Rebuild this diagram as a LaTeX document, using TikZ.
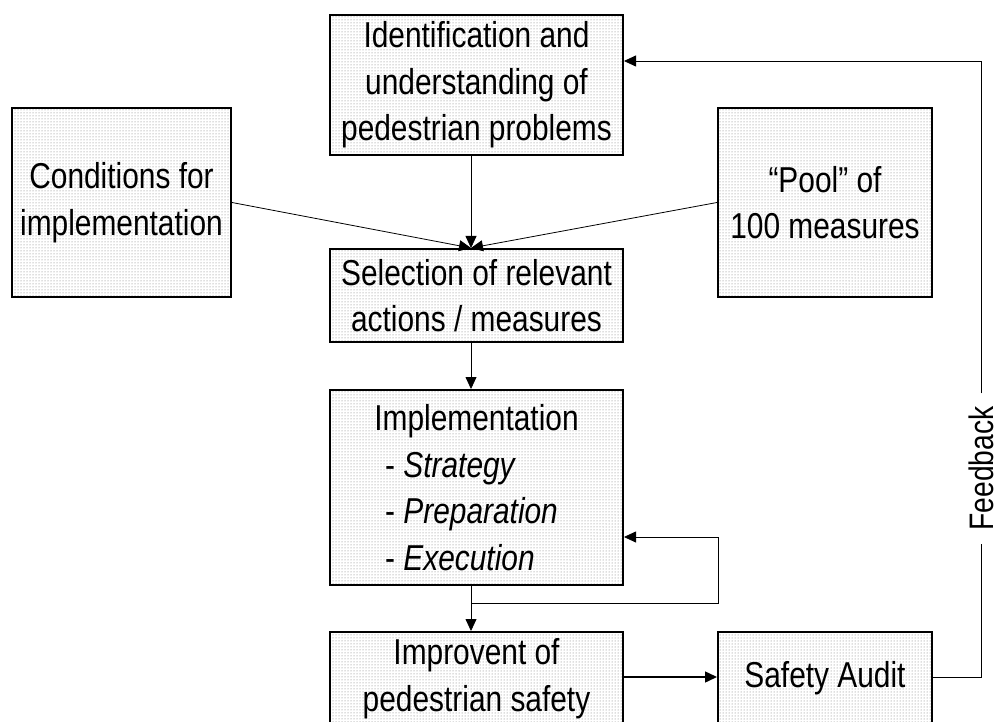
\documentclass[tikz,border=0pt]{standalone}
\usepackage{fontspec}
\setmainfont{Liberation Sans}[FakeStretch=0.83]
\usetikzlibrary{arrows.meta,patterns}

\begin{document}
\begin{tikzpicture}[x=1pt,y=-1pt,
  font=\fontsize{36}{46.5}\selectfont,
  box/.style={draw,line width=2pt,pattern=dots,pattern color=black!55,align=center,inner sep=0pt},
  conn/.style={line width=0.8pt,-{Triangle[length=12pt,width=11pt]}}]
 \useasboundingbox (0,0) rectangle (999,722);
 \clip (0,0) rectangle (999,722);
 % boxes
 \node[box,minimum width=293pt,minimum height=140pt] (ident) at (476.5,85) {Identification and\\understanding of\\pedestrian problems};
 \node[box,minimum width=219pt,minimum height=189pt] (cond) at (121.5,202.5) {Conditions for\\implementation};
 \node[box,minimum width=214pt,minimum height=189pt] (pool) at (825,202.5) {“Pool” of\\100 measures};
 \node[box,minimum width=293pt,minimum height=93pt] (select) at (476.5,295.5) {Selection of relevant\\actions / measures};
 \node[box,minimum width=293pt,minimum height=195pt,align=left] (impl) at (476.5,487.5)
   {Implementation\\\hspace{0.3em}- \textit{Strategy}\\\hspace{0.3em}- \textit{Preparation}\\\hspace{0.3em}- \textit{Execution}};
 \node[box,minimum width=293pt,minimum height=93pt] (improve) at (476.5,678.5) {Improvent of\\pedestrian safety};
 \node[box,minimum width=214pt,minimum height=93pt] (audit) at (825,678.5) {Safety Audit};
 \node[rotate=90,inner xsep=13pt,inner ysep=0pt,font=\fontsize{34}{40}\selectfont] (feedback) at (981,468.5) {Feedback};
 \coordinate (loop) at (718,603);
 % connectors
 \draw[conn] ([xshift=-5.5pt]ident.south) -- ([xshift=-5.5pt]select.north);
 \draw[conn] (cond.east) -- ([xshift=-5.5pt]select.north);
 \draw[conn] (pool.west) -- ([xshift=-5.5pt]select.north);
 \draw[conn] ([xshift=-5.5pt]select.south) -- ([xshift=-5.5pt]impl.north);
 \draw[conn] ([xshift=-5.5pt]impl.south) -- ([xshift=-5.5pt]improve.north);
 \draw[conn] ([xshift=-5.5pt]impl.south) |- (loop) |- ([yshift=-49.5pt]impl.east);
 \draw[conn,line width=1.5pt] ([yshift=1.5pt]improve.east) -- ([yshift=1.5pt]audit.west);
 \draw[line width=0.8pt] ([yshift=1.5pt]audit.east) -| (feedback);
 \draw[conn] (feedback) |- ([yshift=24pt]ident.east);
\end{tikzpicture}
\end{document}
